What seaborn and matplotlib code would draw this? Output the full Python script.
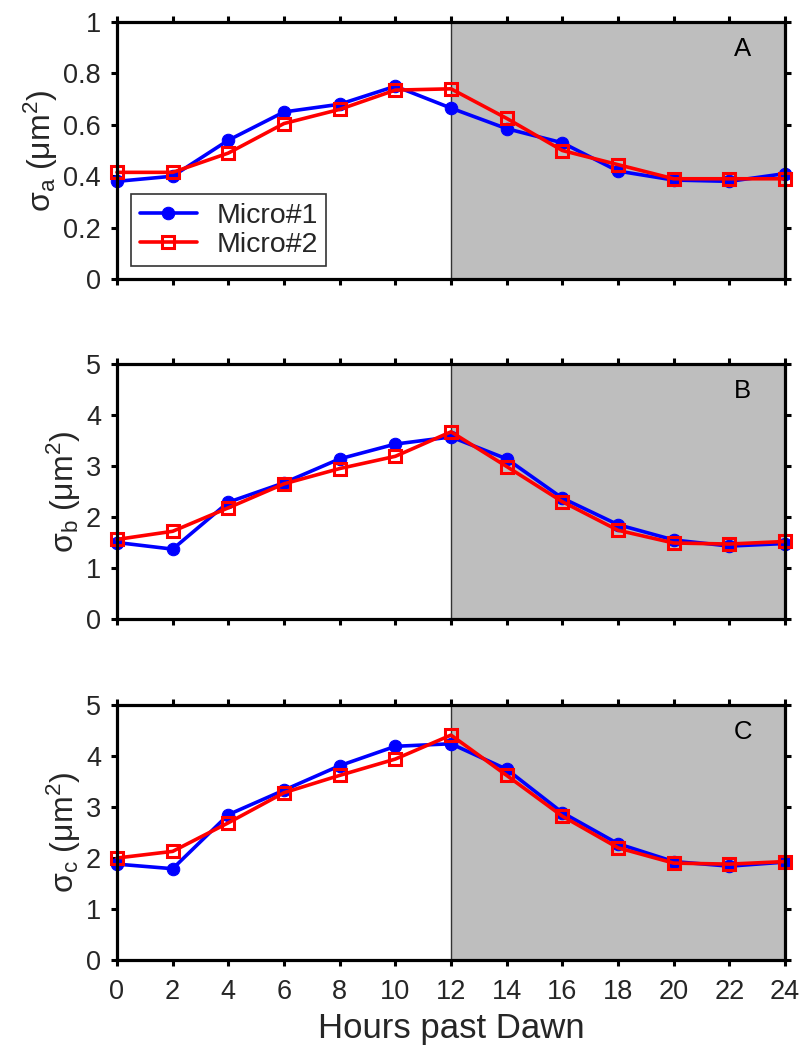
import numpy as np
import pandas as pd
import seaborn as sns
import matplotlib
matplotlib.use("Agg")
import matplotlib.pyplot as plt

hours = [0, 2, 4, 6, 8, 10, 12, 14, 16, 18, 20, 22, 24]

sigma_a_micro1 = [0.38, 0.40, 0.54, 0.65, 0.68, 0.75, 0.665, 0.585, 0.53, 0.42, 0.385, 0.38, 0.41]
sigma_a_micro2 = [0.415, 0.415, 0.49, 0.605, 0.66, 0.735, 0.74, 0.625, 0.50, 0.445, 0.39, 0.39, 0.39]

sigma_b_micro1 = [1.50, 1.37, 2.29, 2.67, 3.14, 3.43, 3.57, 3.14, 2.37, 1.85, 1.55, 1.43, 1.48]
sigma_b_micro2 = [1.56, 1.72, 2.18, 2.65, 2.95, 3.19, 3.67, 2.99, 2.30, 1.74, 1.49, 1.47, 1.52]

sigma_c_micro1 = [1.88, 1.79, 2.85, 3.33, 3.81, 4.19, 4.24, 3.74, 2.89, 2.28, 1.93, 1.84, 1.92]
sigma_c_micro2 = [2.00, 2.13, 2.69, 3.28, 3.62, 3.94, 4.41, 3.62, 2.82, 2.20, 1.90, 1.88, 1.93]

series_names = ["Micro#1", "Micro#2"]
panel_letters = ["A", "B", "C"]
y_labels = [r"$\mathregular{\sigma_{a}\ (\mu m^2)}$",
            r"$\mathregular{\sigma_{b}\ (\mu m^2)}$",
            r"$\mathregular{\sigma_{c}\ (\mu m^2)}$"]
y_limits = [(0, 1), (0, 5), (0, 5)]
y_ticks = [[0, 0.2, 0.4, 0.6, 0.8, 1.0], [0, 1, 2, 3, 4, 5], [0, 1, 2, 3, 4, 5]]
y_ticklabels = [["0", "0.2", "0.4", "0.6", "0.8", "1"],
                ["0", "1", "2", "3", "4", "5"],
                ["0", "1", "2", "3", "4", "5"]]
x_ticks = list(range(0, 25, 2))
dark_start, dark_end = 12, 24

sns.set_theme(style="ticks")
plt.rcParams["font.family"] = ["Liberation Sans", "DejaVu Sans"]
plt.rcParams["mathtext.fontset"] = "custom"
plt.rcParams["mathtext.rm"] = "Liberation Sans"
plt.rcParams["mathtext.it"] = "Liberation Sans:italic"

panels = [
    (sigma_a_micro1, sigma_a_micro2),
    (sigma_b_micro1, sigma_b_micro2),
    (sigma_c_micro1, sigma_c_micro2),
]

fig = plt.figure(figsize=(8.04, 10.5), dpi=100)
W, H = 804, 1050
left, right = 117, 785
tops = [22, 364, 705]
bottoms = [279, 619, 960]

colors = {"Micro#1": "#0000ff", "Micro#2": "#ff0000"}

for i, (m1, m2) in enumerate(panels):
    ax = fig.add_axes([left / W, 1 - bottoms[i] / H, (right - left) / W, (bottoms[i] - tops[i]) / H])
    df = pd.DataFrame({
        "hour": hours * 2,
        "value": m1 + m2,
        "series": [series_names[0]] * len(hours) + [series_names[1]] * len(hours),
    })
    ax.axvspan(dark_start, dark_end, color="#bebebe", zorder=0, lw=0)
    ax.axvline(dark_start, color="#333333", lw=1.0, zorder=1)

    sns.lineplot(data=df[df.series == "Micro#1"], x="hour", y="value", ax=ax,
                 color=colors["Micro#1"], marker="o", markersize=9, lw=2.6,
                 markeredgecolor=colors["Micro#1"], label="Micro#1", zorder=3)
    sns.lineplot(data=df[df.series == "Micro#2"], x="hour", y="value", ax=ax,
                 color=colors["Micro#2"], marker="s", markersize=8, lw=2.6,
                 markerfacecolor="none", markeredgecolor=colors["Micro#2"],
                 markeredgewidth=2.2, label="Micro#2", zorder=4)

    ax.set_xlim(0, 24)
    ax.set_ylim(*y_limits[i])
    ax.set_xticks(x_ticks)
    ax.set_yticks(y_ticks[i])
    ax.set_yticklabels(y_ticklabels[i])
    ax.tick_params(direction="out", length=4.5, width=2.2, labelsize=19.5, color="black",
                   top=True, right=True, pad=7)
    ax.tick_params(axis="x", pad=9)
    for sp in ax.spines.values():
        sp.set_visible(True)
        sp.set_linewidth(2.3)
        sp.set_color("black")
        sp.set_zorder(6)
    for m in ax.lines:
        m.set_clip_on(False)
    ax.set_ylabel(y_labels[i], fontsize=23, labelpad=2)
    if i < 2:
        ax.set_xticklabels([])
        ax.set_xlabel("")
    else:
        ax.set_xlabel("Hours past Dawn", fontsize=25, labelpad=5)
    ax.text(0.937, 0.893, panel_letters[i], transform=ax.transAxes, fontsize=18.5,
            ha="center", va="center", color="black")

    if i == 0:
        leg = ax.legend(loc="lower left", bbox_to_anchor=(0.021, 0.05), fontsize=20.5,
                        frameon=True, fancybox=False, edgecolor="black",
                        handlelength=2.0, borderpad=0.3, labelspacing=0.1,
                        handletextpad=0.7, borderaxespad=0.0)
        leg.get_frame().set_linewidth(1.2)
        leg.set_zorder(7)
    elif ax.get_legend() is not None:
        ax.get_legend().remove()

fig.savefig("out.png", dpi=100)
